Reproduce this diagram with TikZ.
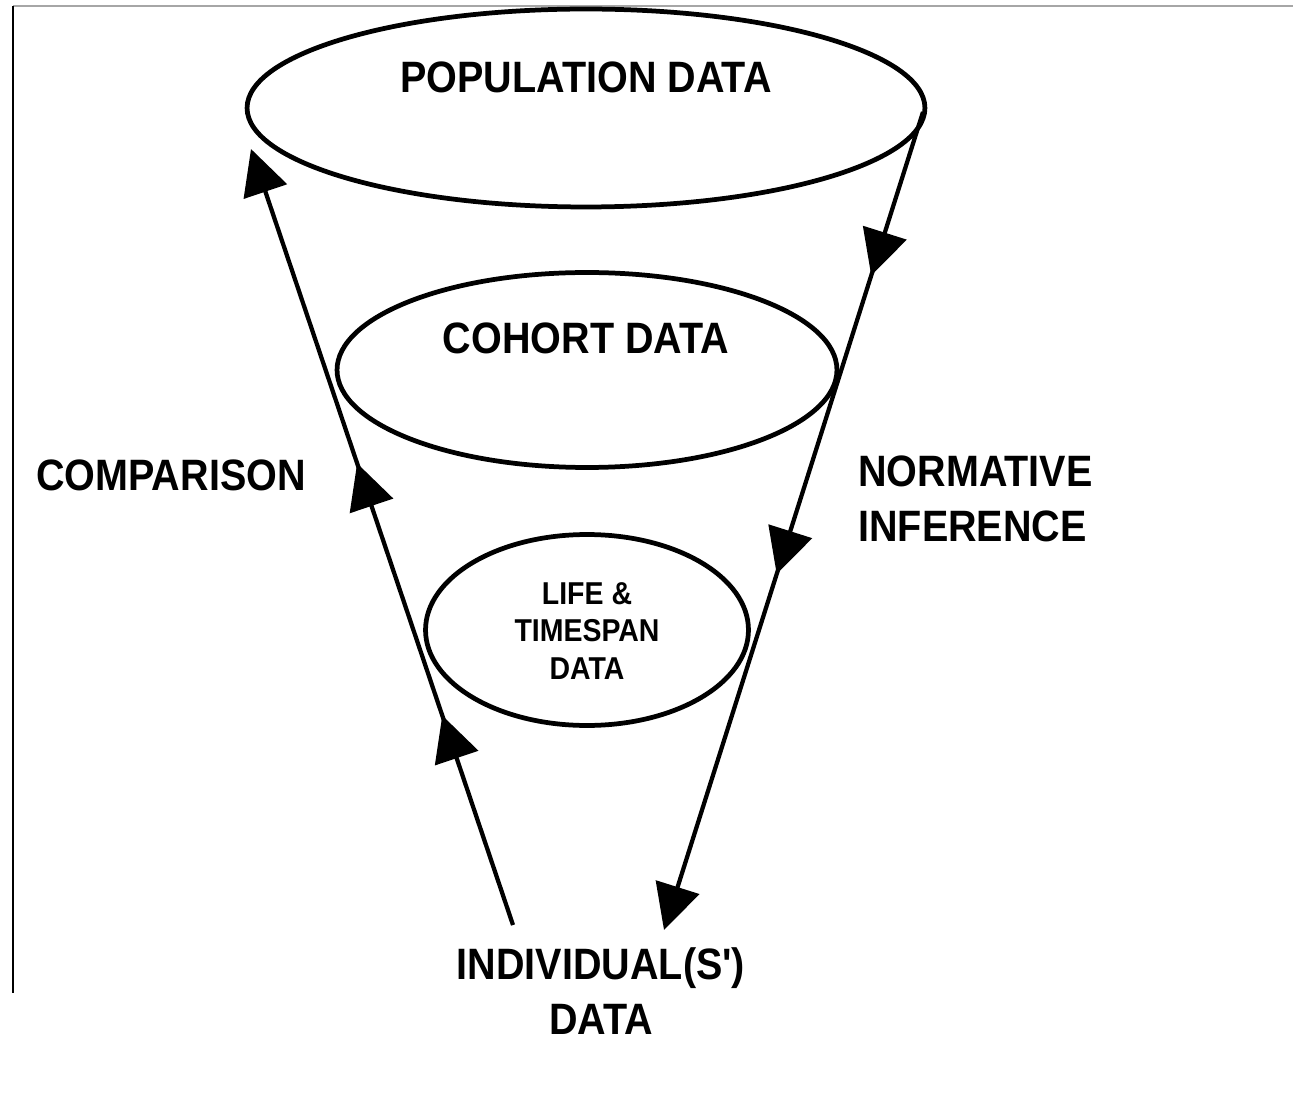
\documentclass[tikz,border=0pt]{standalone}
\usepackage{fontspec}
\newfontfamily\lblfont[FakeStretch=0.9]{Liberation Sans}
\usetikzlibrary{arrows.meta, decorations.markings, shapes.geometric}

\tikzset{
  ring/.style={draw, ellipse, line width=0.095cm, inner sep=0pt},
  flowline/.style={line width=0.085cm},
  lbl/.style={font=\lblfont\bfseries\fontsize{25}{31.5}\selectfont, inner sep=0pt, align=center},
  smalllbl/.style={font=\lblfont\bfseries\fontsize{18}{21.2}\selectfont, inner sep=0pt, align=center},
  bigtip/.tip={Triangle[length=0.9cm, width=0.9cm]},
  twotips/.style 2 args={postaction={decorate}, decoration={markings,
      mark=at position #1 with {\arrow{bigtip}},
      mark=at position #2 with {\arrow{bigtip}}}}
}

\begin{document}
\begin{tikzpicture}[x=0.02cm, y=-0.02cm]
\useasboundingbox (0,0) rectangle (1294,1094);

% frame edges of the scan
\draw[gray!70, line width=0.03cm] (13,6) -- (1293,6);
\draw[line width=0.035cm] (13,6) -- (13,993);

% the three levels of the funnel
\node[ring, minimum width=13.56cm, minimum height=3.96cm] (pop) at (586,108) {};
\node[ring, minimum width=10cm, minimum height=3.9cm] (coh) at (587,370) {};
\node[ring, minimum width=6.46cm, minimum height=3.82cm] (life) at (587,630) {};

\node[lbl] (poplbl) at (586,77) {POPULATION DATA};
\node[lbl] (cohlbl) at (586,338) {COHORT DATA};
\node[smalllbl] (lifelbl) at (587,631) {LIFE \&\\TIMESPAN\\DATA};

% side labels
\node[lbl] (cmplbl) at (171,475) {COMPARISON};
\node[lbl, anchor=west, align=left] (normlbl) at (858,499) {NORMATIVE\\INFERENCE};
\node[lbl] (indlbl) at (601,991) {INDIVIDUAL(S')\\DATA};

% comparison goes up, inference goes down
\coordinate (cmpfoot) at (513,925);
\coordinate (cmphead) at (251,149);
\coordinate (normtop) at (923,112);
\coordinate (normfoot) at (664,930);

\draw[flowline, -{bigtip}, twotips={0.27}{0.595}] (cmpfoot) -- (cmphead);
\draw[flowline, -{bigtip}, twotips={0.2}{0.565}] (normtop) -- (normfoot);

\end{tikzpicture}
\end{document}
